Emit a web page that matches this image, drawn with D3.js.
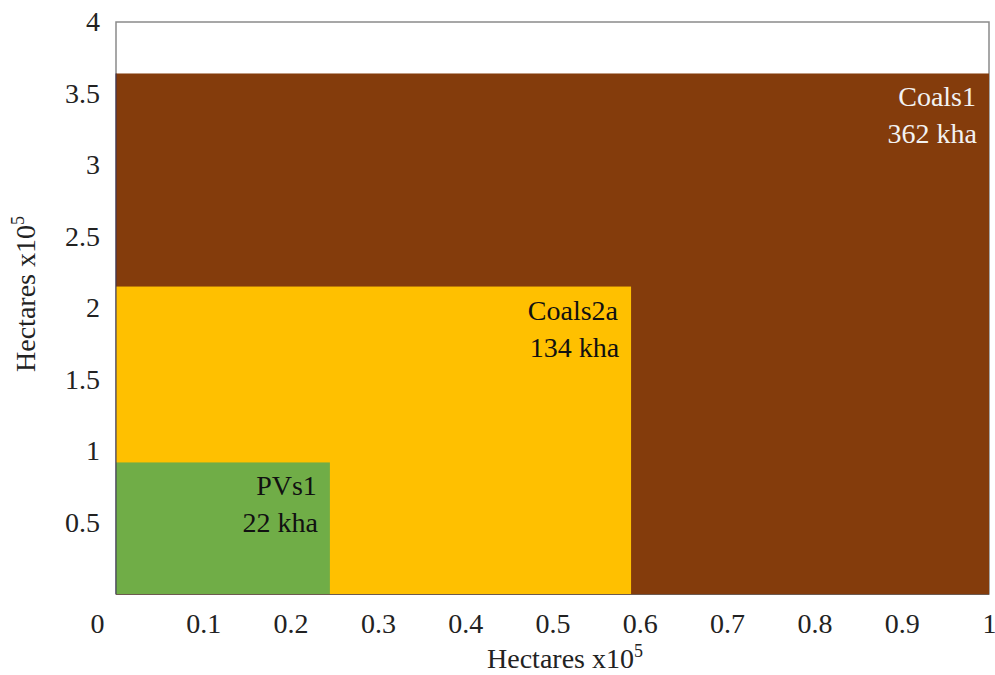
<!DOCTYPE html>
<html>
<head>
<meta charset="utf-8">
<script src="https://cdn.jsdelivr.net/npm/d3@7"></script>
<style>
    body { margin: 0; background: #fff; }
    svg text { font-family: "Liberation Serif", "Times New Roman", serif; }
</style>
</head>
<body>
<div id="draw_here"></div>
<script type="text/javascript">
    // Data (hectares x10^5)
    names = ["Coals1", "Coals2a", "PVs1"]
    labels = ["362 kha", "134 kha", "22 kha"]
    widths = [1.0, 0.59, 0.245]
    heights = [3.64, 2.15, 0.92]
    colors = ["#843c0c", "#ffc000", "#70ad47"]
    textColors = ["#f2f2f2", "#111", "#111"]

    xTicks = [0, 0.1, 0.2, 0.3, 0.4, 0.5, 0.6, 0.7, 0.8, 0.9, 1]
    yTicks = [0.5, 1, 1.5, 2, 2.5, 3, 3.5, 4]

    canvas = ({width: 995, height: 675})
    margin = ({top: 22, right: 6, bottom: 81, left: 116})

    x = d3.scaleLinear()
        .domain([0, 1])
        .range([margin.left, canvas.width - margin.right])

    y = d3.scaleLinear()
        .domain([0, 4])
        .range([canvas.height - margin.bottom, margin.top])

    var svg = d3.select("div#draw_here").append("svg")
        .attr("width", canvas.width)
        .attr("height", canvas.height)

    // Plot frame
    svg.append("rect")
        .attr("x", x(0))
        .attr("y", y(4))
        .attr("width", x(1) - x(0))
        .attr("height", y(0) - y(4))
        .attr("fill", "#fff")
        .attr("stroke", "#8a8a8a")
        .attr("stroke-width", 1.5)

    // Nested rectangles, biggest first
    data = names.map((n, i) => ({name: n, label: labels[i], w: widths[i], h: heights[i], color: colors[i], tc: textColors[i]}))

    svg.selectAll("rect.area")
        .data(data)
        .join("rect")
        .attr("class", "area")
        .attr("x", x(0))
        .attr("y", d => y(d.h))
        .attr("width", d => x(d.w) - x(0))
        .attr("height", d => y(0) - y(d.h))
        .attr("fill", d => d.color)

    // Left and bottom axis edges
    svg.append("line")
        .attr("x1", x(0)).attr("x2", x(0))
        .attr("y1", y(0)).attr("y2", y(heights[0]))
        .attr("stroke", "#3b3358")
        .attr("stroke-width", 1)
    svg.append("line")
        .attr("x1", x(0)).attr("x2", x(1))
        .attr("y1", y(0) + 0.5).attr("y2", y(0) + 0.5)
        .attr("stroke", "#6d5a50")
        .attr("stroke-width", 1)

    // Labels inside rectangles
    var lbl = svg.selectAll("text.lbl")
        .data(data)
        .join("text")
        .attr("class", "lbl")
        .attr("text-anchor", "end")
        .attr("font-size", 28)
        .attr("fill", d => d.tc)
    lbl.append("tspan")
        .attr("x", d => x(d.w) - 13)
        .attr("y", d => y(d.h) + 33)
        .text(d => d.name)
    lbl.append("tspan")
        .attr("x", d => x(d.w) - 12)
        .attr("y", d => y(d.h) + 70)
        .text(d => d.label)

    // Axes
    var gx = svg.append("g")
        .attr("transform", `translate(0,${y(0)})`)
        .call(d3.axisBottom(x).tickValues(xTicks).tickSize(0).tickPadding(19).tickFormat(d3.format("")))
    gx.select(".domain").remove()
    gx.selectAll("text")
        .attr("font-size", 28)
        .attr("fill", "#222")
        .attr("font-family", "Liberation Serif")
    gx.selectAll(".tick").filter(d => d === 0).select("text").attr("dx", -19)

    var gy = svg.append("g")
        .attr("transform", `translate(${x(0)},0)`)
        .call(d3.axisLeft(y).tickValues(yTicks).tickSize(0).tickPadding(16).tickFormat(d3.format("")))
    gy.select(".domain").remove()
    gy.selectAll("text")
        .attr("font-size", 28)
        .attr("fill", "#222")
        .attr("font-family", "Liberation Serif")

    // Axis titles
    var xt = svg.append("text")
        .attr("x", 565)
        .attr("y", 668)
        .attr("text-anchor", "middle")
        .attr("font-size", 28)
        .attr("fill", "#222")
        .text("Hectares x10")
    xt.append("tspan").attr("font-size", 18).attr("dy", -11).text("5")

    var yt = svg.append("text")
        .attr("transform", "translate(35,294) rotate(-90)")
        .attr("text-anchor", "middle")
        .attr("font-size", 28)
        .attr("fill", "#222")
        .text("Hectares x10")
    yt.append("tspan").attr("font-size", 18).attr("dy", -11).text("5")
</script>
</body>
</html>
